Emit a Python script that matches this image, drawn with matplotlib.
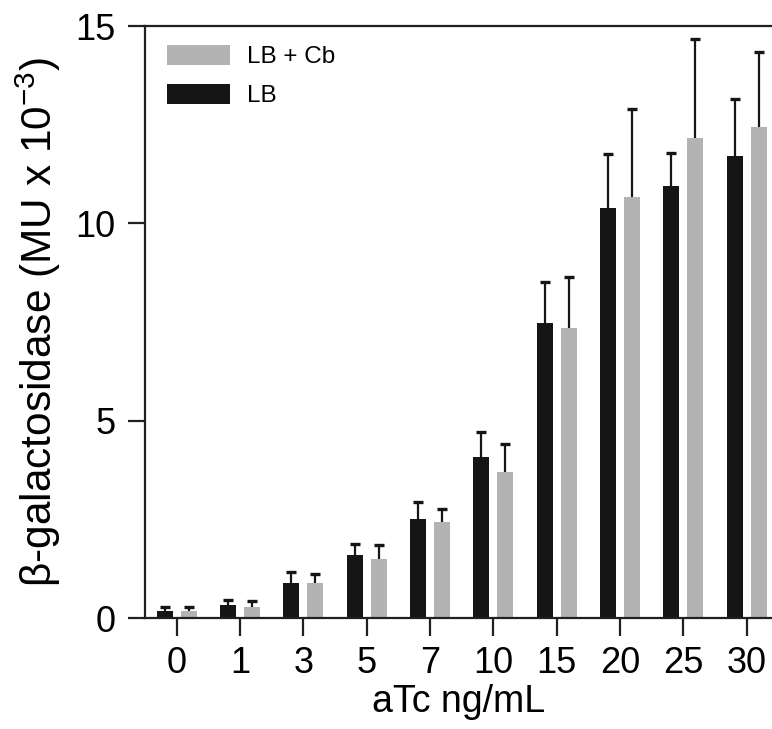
import numpy as np
import matplotlib
matplotlib.use('Agg')
import matplotlib.pyplot as plt

plt.rcParams['font.family'] = ['Liberation Sans', 'DejaVu Sans']
plt.rcParams['mathtext.default'] = 'regular'

# aTc concentrations (ng/mL)
doses = ['0', '1', '3', '5', '7', '10', '15', '20', '25', '30']
# beta-galactosidase (MU x 10^-3), mean and upper error
lb_mean = [0.18, 0.33, 0.89, 1.59, 2.51, 4.08, 7.47, 10.39, 10.95, 11.70]
lb_err = [0.10, 0.13, 0.28, 0.29, 0.42, 0.63, 1.04, 1.36, 0.84, 1.44]
cb_mean = [0.17, 0.29, 0.89, 1.50, 2.42, 3.71, 7.35, 10.66, 12.15, 12.43]
cb_err = [0.10, 0.14, 0.23, 0.36, 0.35, 0.71, 1.29, 2.24, 2.51, 1.90]

BLACK = '#151515'
GRAY = '#b3b3b3'

fig = plt.figure(figsize=(7.72, 7.29), dpi=100)
ax = fig.add_axes([145/772, (729-618)/729, 1 - 145/772, (618-26)/729])

x = np.arange(len(doses))
w = 0.25
off = 0.19
zeros = np.zeros(len(doses))

ax.bar(x - off, lb_mean, w, color=BLACK, label='LB', zorder=2)
ax.bar(x + off, cb_mean, w, color=GRAY, label='LB + Cb', zorder=2)
for xs, m, e in [(x - off, lb_mean, lb_err), (x + off, cb_mean, cb_err)]:
    eb = ax.errorbar(xs, m, yerr=[zeros, e], fmt='none', ecolor=BLACK,
                     elinewidth=1.6, capsize=3.5, capthick=2.4, zorder=3)
    eb[1][0].set_visible(False)  # hide lower caps, only upper error shown

ax.set_xlim(-0.5, 9.4)
ax.set_ylim(0, 15)
ax.set_xticks(x)
ax.set_xticklabels(doses)
ax.set_yticks([0, 5, 10, 15])

for s in ['left', 'top', 'bottom']:
    ax.spines[s].set_linewidth(1.6)
    ax.spines[s].set_color('#202020')
ax.spines['right'].set_visible(False)

ax.tick_params(axis='both', labelsize=26, width=1.6, color='#202020')
ax.tick_params(axis='x', length=13, pad=7)
ax.tick_params(axis='y', length=12, pad=9)

ax.set_xlabel('aTc ng/mL', fontsize=27, labelpad=2)
ax.set_ylabel(r'β-galactosidase (MU x 10$^{-3}$)', fontsize=30.5, labelpad=9)

h, l = ax.get_legend_handles_labels()
ax.legend(h[::-1], l[::-1], loc='upper left', frameon=False, fontsize=17.5,
          handlelength=2.6, handleheight=0.9, handletextpad=0.7,
          labelspacing=0.62, borderpad=0, borderaxespad=0,
          bbox_to_anchor=(22/627, 1 - 19/592))

fig.savefig('out.png', dpi=100)
